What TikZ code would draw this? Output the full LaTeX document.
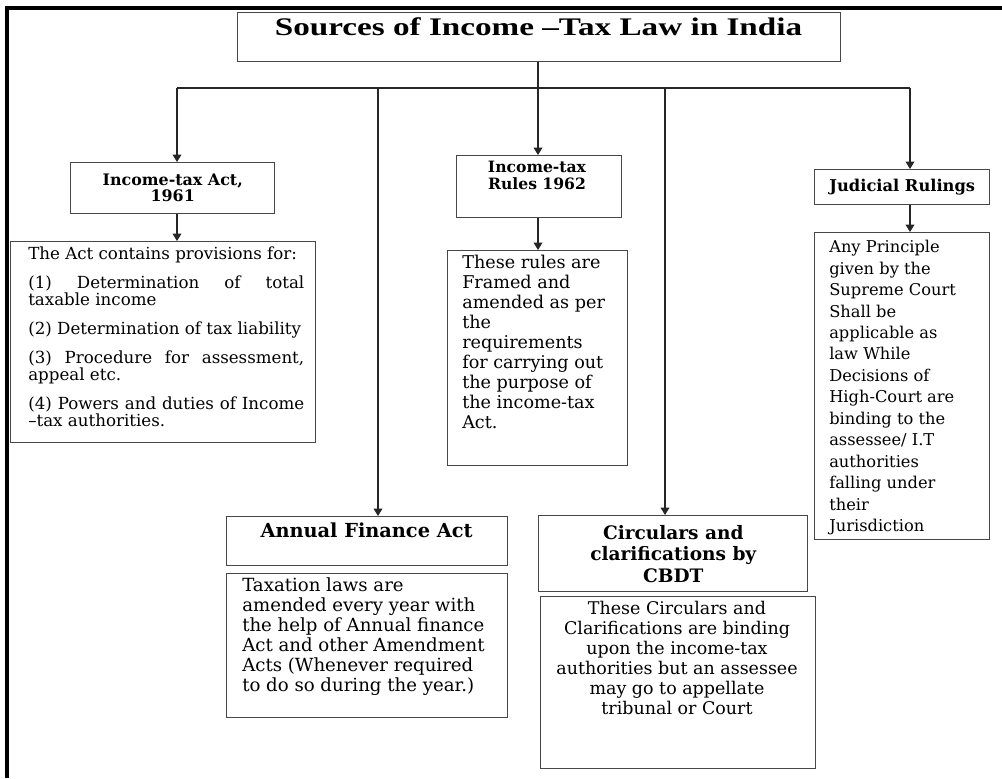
\documentclass[tikz,border=0pt]{standalone}
\usepackage{graphicx}
\usepackage{fontspec}
\setmainfont{DejaVu Serif}
\newfontfamily\timesfont{Liberation Serif}
\usetikzlibrary{arrows.meta}
\newcommand\mybox[7][]{\node[box,anchor=north west,minimum width={(#4-#2)*0.75pt},minimum height={(#5-#3)*0.75pt},#1] (#6) at (#2,#3) {#7};}
\begin{document}
\begin{tikzpicture}[x=0.75pt,y=-0.75pt,
  box/.style={draw=black!72,line width=1.1pt,rectangle,inner sep=0pt,align=center},
  conn/.style={draw=black!85,line width=0.9pt},
  arr/.style={conn,-{Triangle[width=6.5pt,length=5.5pt]}},
  txt/.style={inner sep=0pt,anchor=north west,align=left},
  hd/.style={inner sep=0pt,align=center},
]
\useasboundingbox (0,0) rectangle (1002,778);
\fill[white] (0,0) rectangle (1002,778);
% outer frame (left and top)
\draw[line width=2.3pt] (7,778) -- (7,8) -- (1002,8);

% boxes
\mybox{237}{12}{840}{61}{title}{}
\mybox[font=\bfseries\fontsize{11.9}{12}\selectfont]{70}{162}{274}{213}{act}{Income-tax Act,\\1961}
\mybox{10}{241}{315}{442}{actd}{}
\mybox{456}{155}{621}{217}{rules}{}
\mybox{447}{250}{627}{465}{rulesd}{}
\mybox[font=\bfseries\fontsize{12.2}{14}\selectfont]{814}{169}{989}{204}{jud}{Judicial Rulings}
\mybox{814}{232}{989}{539}{judd}{}
\mybox{226}{516}{507}{565}{ann}{}
\mybox{226}{573}{507}{717}{annd}{}
\mybox[font=\bfseries\fontsize{13.9}{16.1}\selectfont]{538}{515}{807}{591}{circ}{Circulars and\\clarifications by\\CBDT}
\mybox{540}{596}{815}{768}{circd}{}

% header texts placed at the top of their boxes
\node[hd,anchor=base] (titlet) at (538.5,35) {\scalebox{1.31}[1]{\timesfont\bfseries\fontsize{19}{22}\selectfont Sources of Income –Tax Law in India}};
\node[hd,anchor=north,font=\bfseries\fontsize{11.7}{12.75}\selectfont] (rulest) at (537,161) {Income-tax\\Rules 1962};
\node[hd,anchor=base,font=\bfseries\fontsize{14.5}{16}\selectfont] (annt) at (366.5,537) {Annual Finance Act};

% description texts
\node[txt,text width=207pt,align=justify,font={\fontsize{12.5}{12.75}\selectfont\hyphenpenalty=10000\exhyphenpenalty=10000\tolerance=10000}] (actdt) at (28,247)
{The Act contains provisions for:\\[9pt]
(1) Determination of total taxable income\\[9pt]
(2) Determination of tax liability\\[9pt]
(3) Procedure for assessment, appeal etc.\\[9pt]
(4) Powers and duties of Income\linebreak –tax authorities.};

\node[txt,font=\fontsize{13.2}{15}\selectfont] (rulesdt) at (462,255)
{These rules are\\Framed and\\amended as per\\the\\requirements\\for carrying out\\the purpose of\\the income-tax\\Act.};

\node[txt,font=\fontsize{12.2}{16.1}\selectfont] (juddt) at (829,240)
{Any Principle\\given by the\\Supreme Court\\Shall be\\applicable as\\law While\\Decisions of\\High-Court are\\binding to the\\assessee/ I.T\\authorities\\falling under\\their\\Jurisdiction};

\node[txt,font=\fontsize{13.6}{15}\selectfont] (anndt) at (242,577)
{Taxation laws are\\amended every year with\\the help of Annual finance\\Act and other Amendment\\Acts (Whenever required\\to do so during the year.)};

\node[hd,anchor=north,font=\fontsize{13.1}{15}\selectfont] (circdt) at (677,601)
{These Circulars and\\Clarifications are binding\\upon the income-tax\\authorities but an assessee\\may go to appellate\\tribunal or Court};

% connectors
\coordinate (j1) at (177,88);
\coordinate (j2) at (378,88);
\coordinate (j3) at (538,88);
\coordinate (j4) at (665,88);
\coordinate (j5) at (910,88);
\draw[conn] (j3 |- title.south) -- (j3);
\draw[conn] (j1) -- (j5);
\draw[arr] (j1) -- (j1 |- act.north);
\draw[arr] (j1 |- act.south) -- (j1 |- actd.north);
\draw[arr] (j2) -- (j2 |- ann.north);
\draw[arr] (j3) -- (j3 |- rules.north);
\draw[arr] (j3 |- rules.south) -- (j3 |- rulesd.north);
\draw[arr] (j4) -- (j4 |- circ.north);
\draw[arr] (j5) -- (j5 |- jud.north);
\draw[arr] (j5 |- jud.south) -- (j5 |- judd.north);
\end{tikzpicture}
\end{document}
